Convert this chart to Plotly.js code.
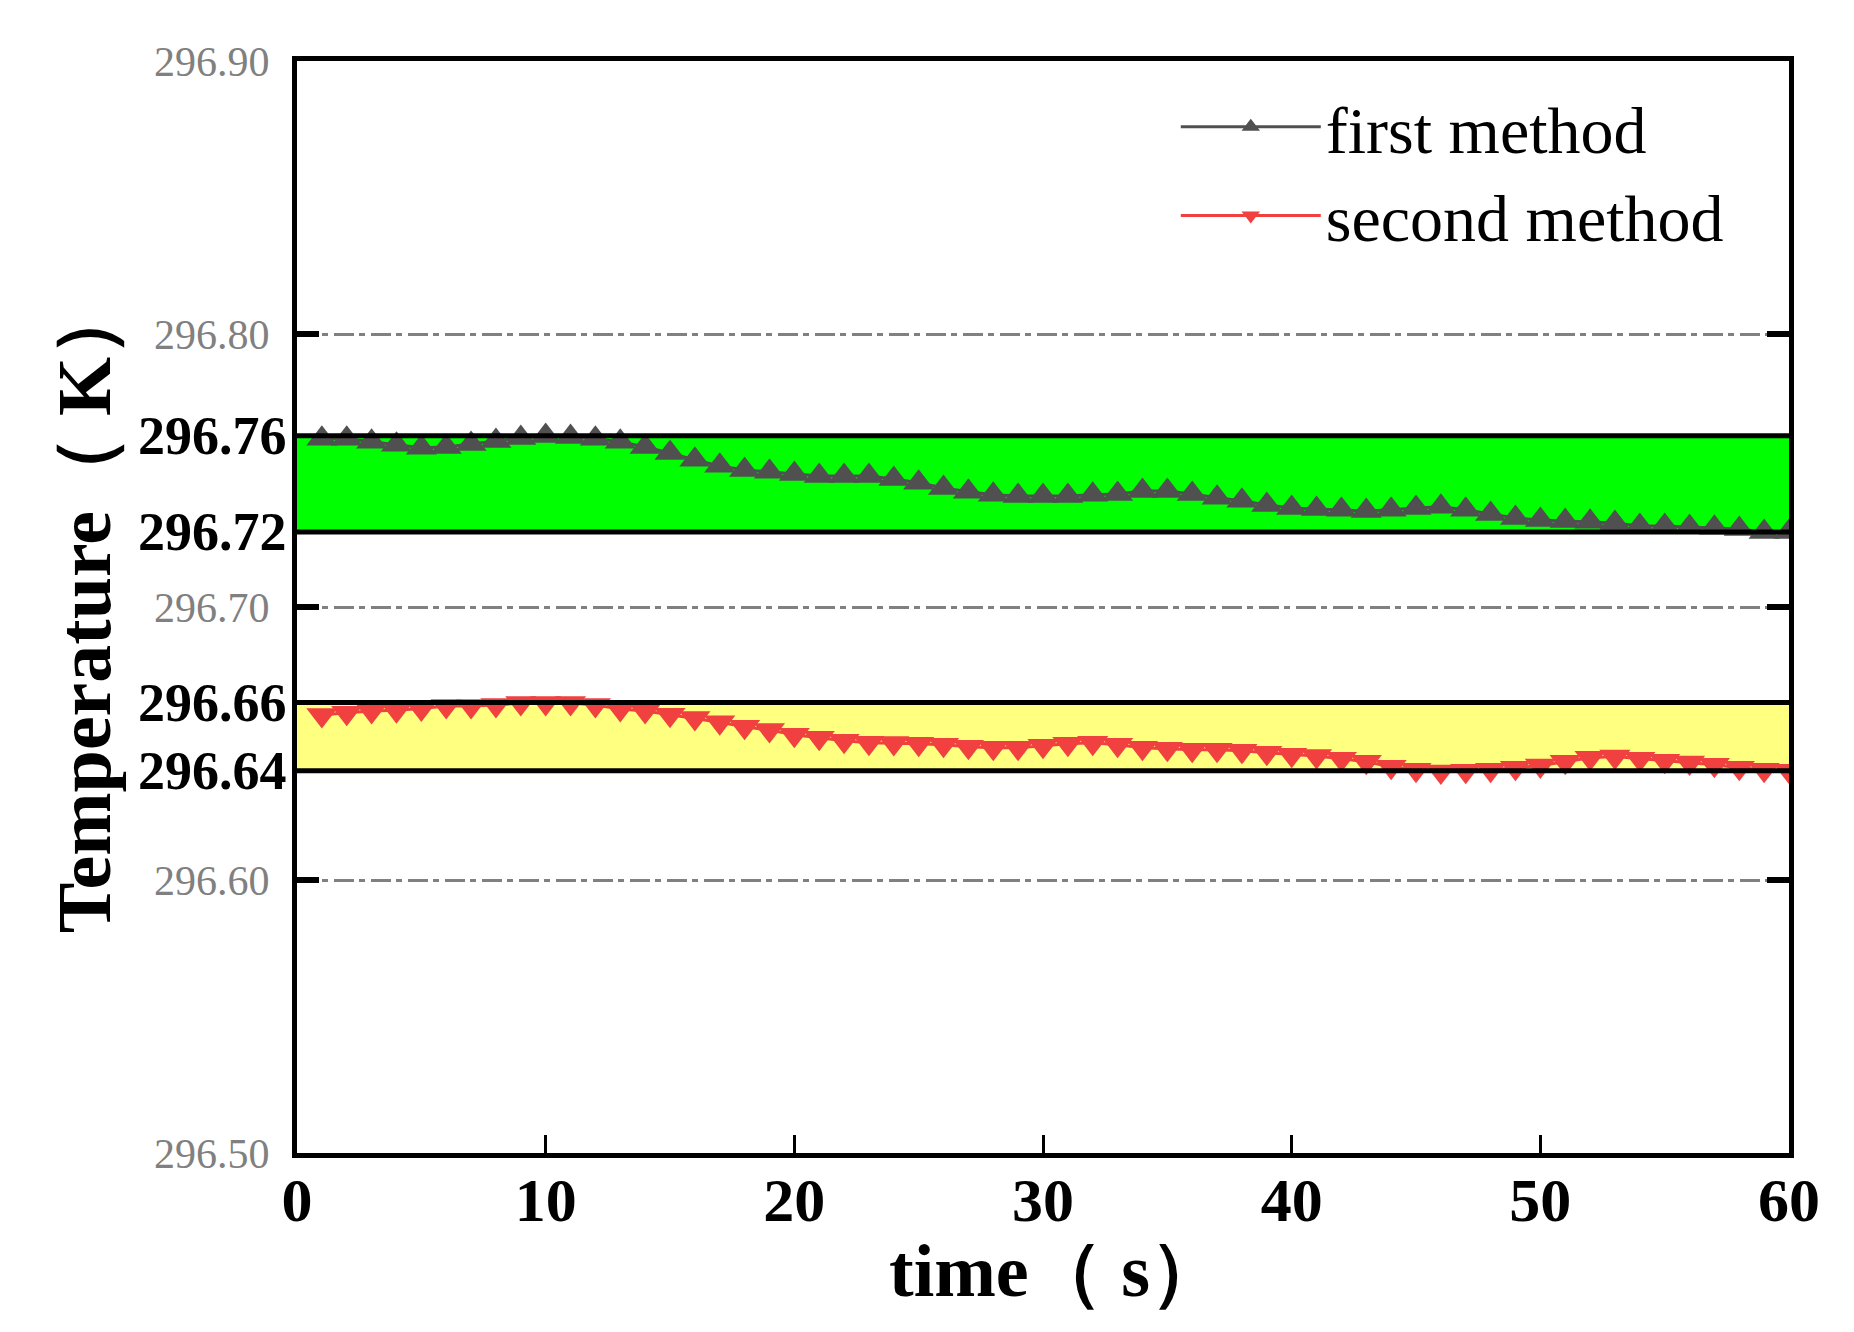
<!DOCTYPE html>
<html>
<head>
<meta charset="utf-8">
<script src="https://cdn.plot.ly/plotly-3.0.1.min.js"></script>
<style>html,body{margin:0;padding:0;background:#fff;}#chart{width:1854px;height:1332px;}</style>
</head>
<body>
<div id="chart"></div>
<script>
// time (s)
const timeS = [1,2,3,4,5,6,7,8,9,10,11,12,13,14,15,16,17,18,19,20,
  21,22,23,24,25,26,27,28,29,30,31,32,33,34,35,36,37,38,39,40,
  41,42,43,44,45,46,47,48,49,50,51,52,53,54,55,56,57,58,59,60];

// first method temperature (K)
const firstMethod = [296.7616,296.7616,296.7605,296.7594,296.7583,296.7586,296.7597,296.7608,296.7619,296.7626,
  296.7623,296.7616,296.7605,296.7586,296.7564,296.7539,296.7517,296.7502,296.7495,296.7487,
  296.7480,296.7480,296.7480,296.7469,296.7455,296.7436,296.7422,296.7411,296.7407,296.7407,
  296.7407,296.7411,296.7414,296.7425,296.7425,296.7414,296.7400,296.7389,296.7374,296.7363,
  296.7359,296.7356,296.7352,296.7356,296.7363,296.7367,296.7356,296.7341,296.7326,296.7319,
  296.7315,296.7312,296.7308,296.7297,296.7297,296.7293,296.7290,296.7286,296.7275,296.7275];

// second method temperature (K)
const secondMethod = [296.6604,296.6613,296.6619,296.6622,296.6628,296.6637,296.6637,296.6641,296.6648,296.6648,
  296.6648,296.6641,296.6626,296.6619,296.6605,296.6593,296.6578,296.6561,296.6549,296.6532,
  296.6521,296.6510,296.6503,296.6502,296.6499,296.6495,296.6488,296.6484,296.6484,296.6492,
  296.6499,296.6503,296.6495,296.6484,296.6481,296.6477,296.6477,296.6473,296.6466,296.6459,
  296.6454,296.6444,296.6433,296.6415,296.6404,296.6397,296.6400,296.6404,296.6411,296.6419,
  296.6433,296.6448,296.6452,296.6444,296.6437,296.6430,296.6422,296.6411,296.6404,296.6400];

// band edges (K) and their labels
const greenBand = [296.7275, 296.7627];
const yellowBand = [296.6400, 296.6650];
const bandTickVals = [296.6400, 296.6650, 296.7275, 296.7627];
const bandTickText = ['296.64', '296.66', '296.72', '296.76'];

// regular axis ticks
const yTickVals = [296.50, 296.60, 296.70, 296.80, 296.90];
const yTickText = ['296.50', '296.60', '296.70', '296.80', '296.90'];
const xTickVals = [0, 10, 20, 30, 40, 50, 60];
const seriesNames = ['first method', 'second method'];
const xTitle = 'time（ s）';
const yTitle = 'Temperature（ K）';

const serif = 'Liberation Serif, Times New Roman, serif';
const darkGrey = 'rgb(80,80,80)';
const red = 'rgb(240,64,64)';

const traces = [
  {
    x: timeS, y: firstMethod, name: seriesNames[0], type: 'scatter', mode: 'lines+markers',
    line: {color: darkGrey, width: 3},
    marker: {symbol: 'triangle-up', size: 27, color: darkGrey}
  },
  {
    x: timeS, y: secondMethod, name: seriesNames[1], type: 'scatter', mode: 'lines+markers',
    line: {color: red, width: 3},
    marker: {symbol: 'triangle-down', size: 27, color: red}
  }
];

function bandRect(b, color) {
  return {type: 'rect', xref: 'paper', x0: 0, x1: 1, yref: 'y', y0: b[0], y1: b[1],
          fillcolor: color, line: {width: 0}, layer: 'below'};
}
function bandLine(v) {
  return {type: 'line', xref: 'paper', x0: 0, x1: 1, yref: 'y', y0: v, y1: v,
          line: {color: 'black', width: 5}, layer: 'above'};
}

const shapes = [bandRect(greenBand, '#00ff00'), bandRect(yellowBand, '#ffff80')]
  .concat(bandTickVals.map(bandLine));

// bold labels for the band edges, placed on the y scale
const annotations = bandTickVals.map((v, i) => ({
  xref: 'paper', x: 0, yref: 'y', y: v, text: '<b>' + bandTickText[i] + '</b>',
  showarrow: false, xanchor: 'right', yanchor: 'middle', xshift: -8,
  font: {family: serif, size: 54, color: 'black'}
}));
// x axis title
annotations.push({
  xref: 'paper', x: 0.509, yref: 'paper', y: -0.108, xanchor: 'center', yanchor: 'middle',
  text: '<b>' + xTitle + '</b>', showarrow: false,
  font: {family: serif, size: 74, color: 'black'}
});

const layout = {
  width: 1854, height: 1332,
  margin: {l: 297, r: 65, t: 61, b: 179},
  paper_bgcolor: 'white', plot_bgcolor: 'white',
  font: {family: serif, color: 'black'},
  showlegend: true,
  legend: {
    x: 0.589, y: 0.985, xanchor: 'left', yanchor: 'top',
    font: {family: serif, size: 66, color: 'black'},
    bgcolor: 'rgba(0,0,0,0)', borderwidth: 0,
    itemwidth: 140, itemsizing: 'trace', tracegroupgap: 0
  },
  xaxis: {
    range: [0, 60], tickvals: xTickVals, ticktext: xTickVals.map(String),
    ticks: 'inside', ticklen: 18, tickwidth: 3, tickcolor: 'black',
    showline: true, linewidth: 5, linecolor: 'black', mirror: true,
    showgrid: false, zeroline: false,
    tickfont: {family: serif, size: 62, color: 'black', weight: 'bold'},
    ticklabelstandoff: -11
  },
  yaxis: {
    range: [296.5, 296.9], tickvals: yTickVals, ticktext: yTickText,
    ticks: 'inside', ticklen: 22, tickwidth: 6, tickcolor: 'black',
    showline: true, linewidth: 5, linecolor: 'black', mirror: 'ticks',
    showgrid: true, gridcolor: '#808080', gridwidth: 3, griddash: '20px,5px,6px,6px',
    zeroline: false,
    tickfont: {family: serif, size: 42, color: '#808080'},
    ticklabelstandoff: 14,
    title: {text: '<b>' + yTitle + '</b>', font: {family: serif, size: 76, color: 'black'}, standoff: 20}
  },
  annotations: annotations,
  shapes: shapes
};

Plotly.newPlot('chart', traces, layout, {displayModeBar: false, staticPlot: true});
</script>
</body>
</html>
